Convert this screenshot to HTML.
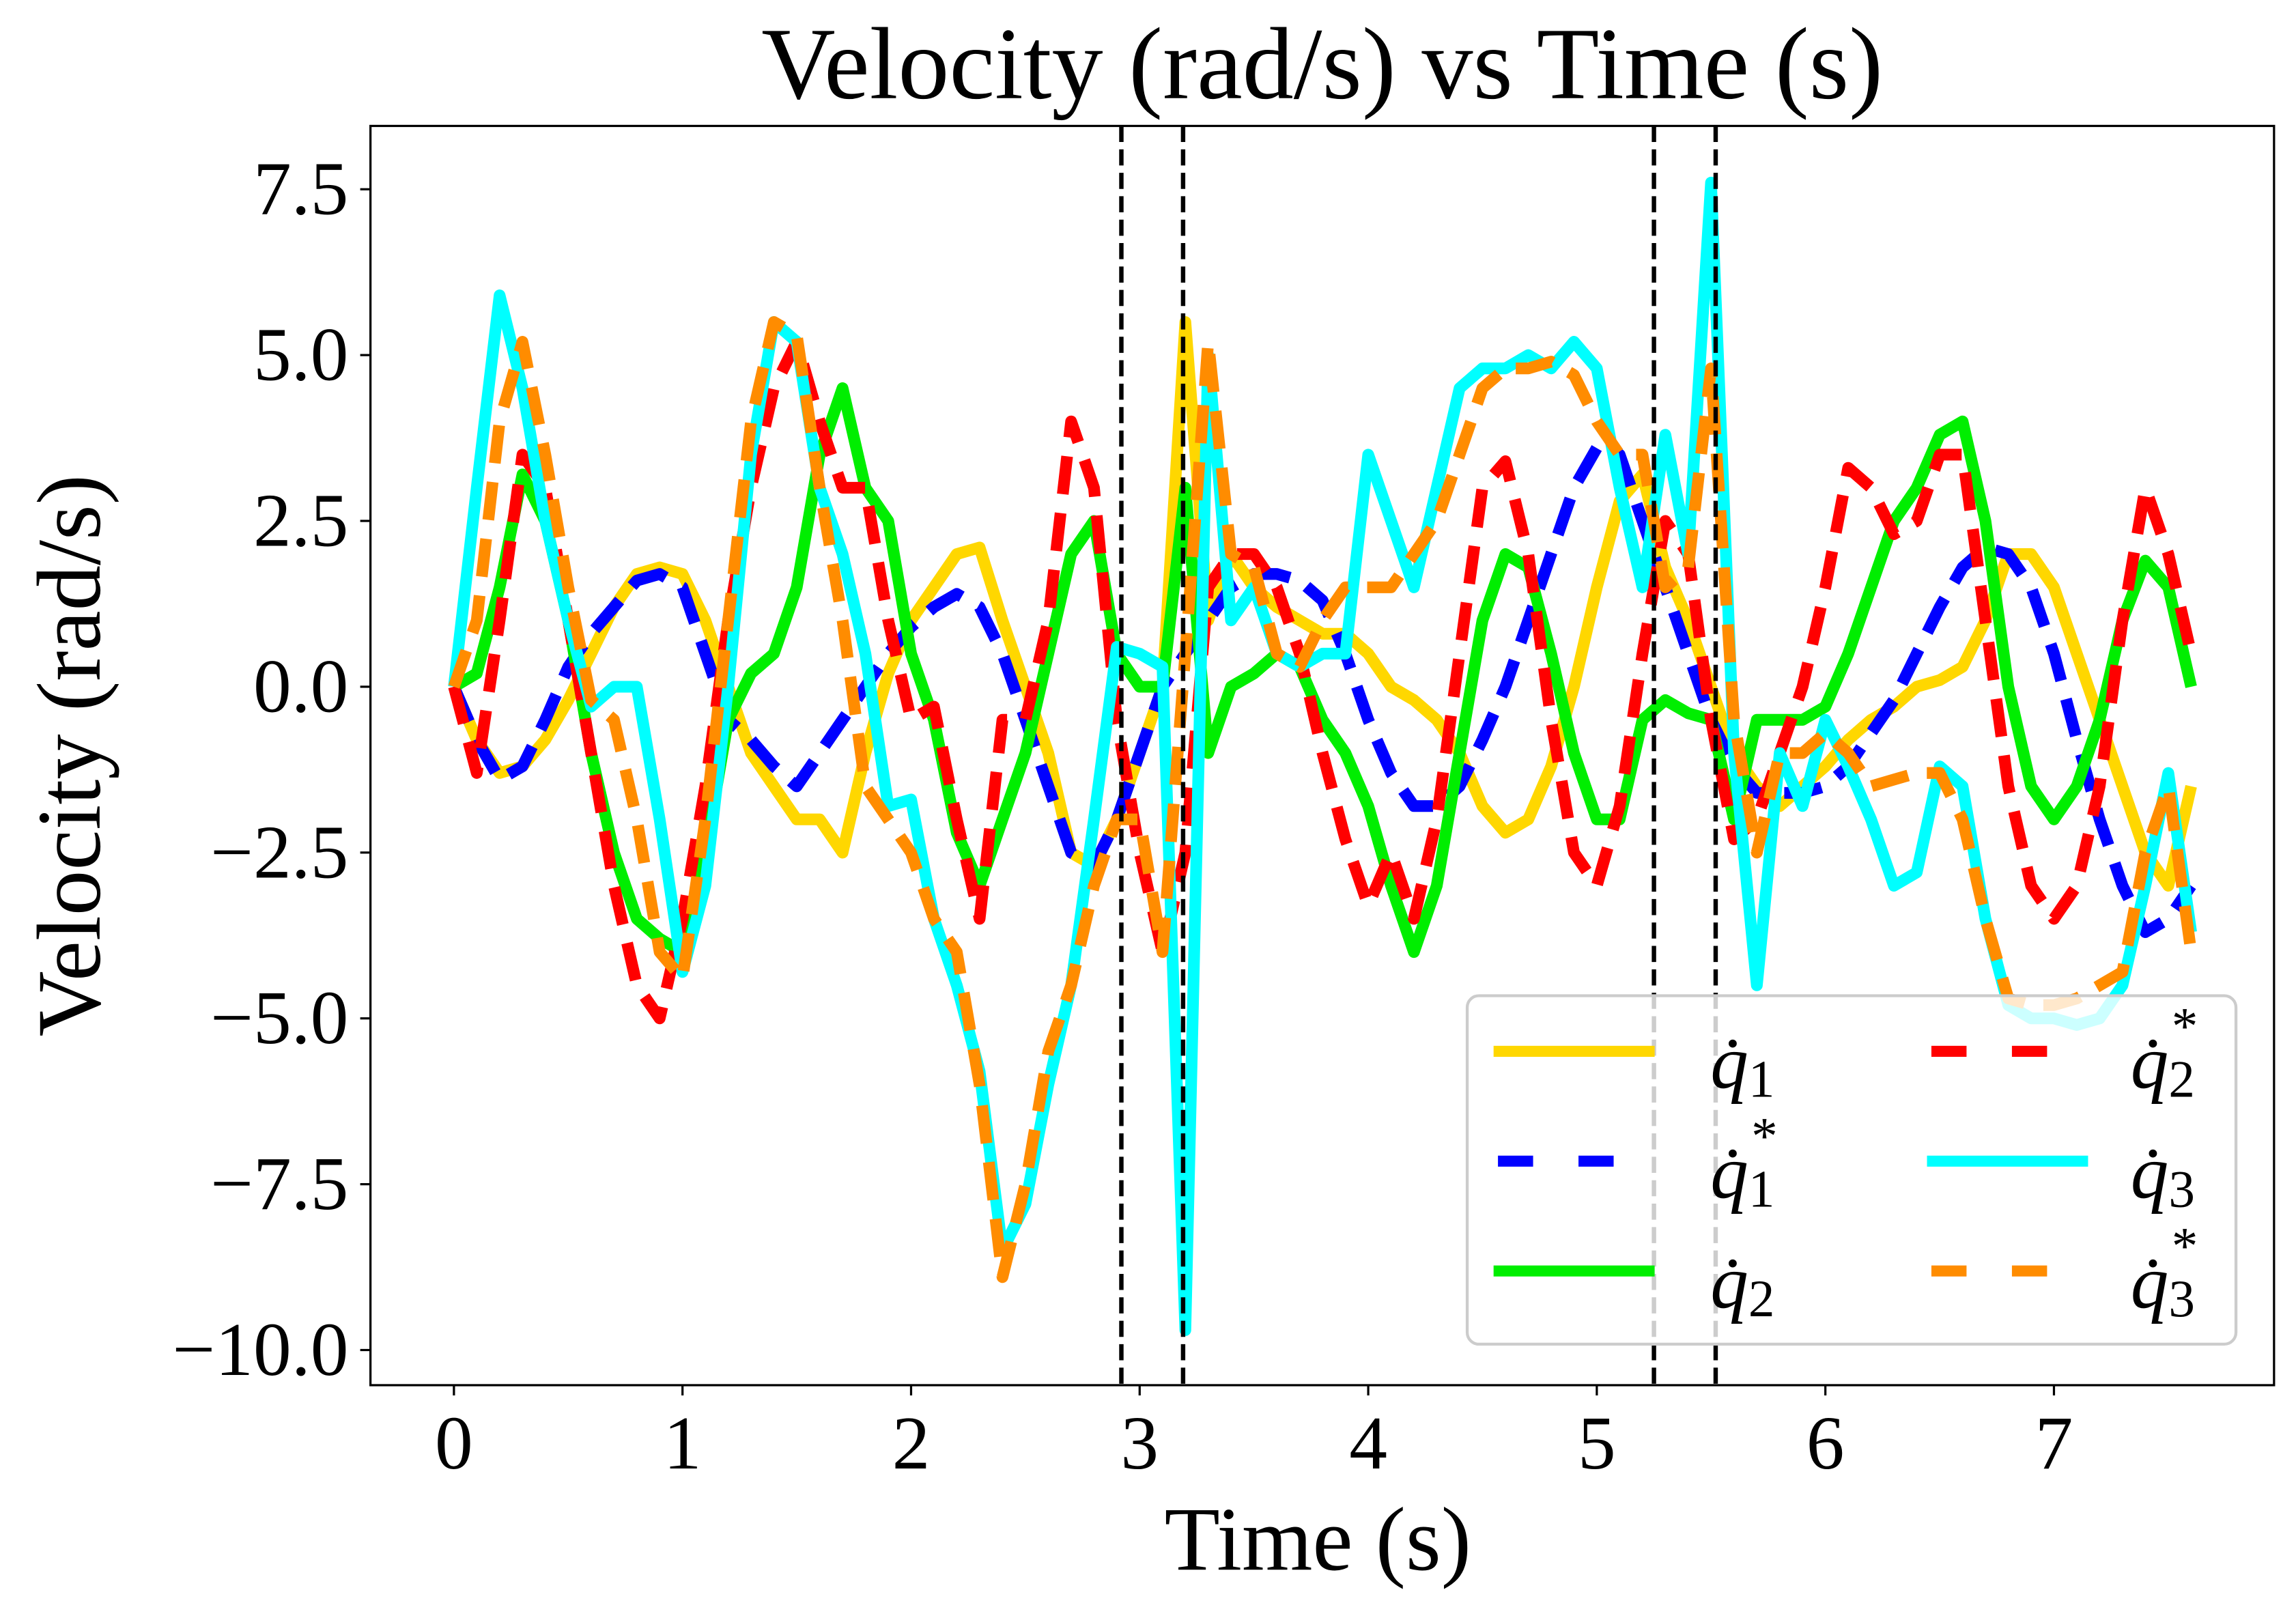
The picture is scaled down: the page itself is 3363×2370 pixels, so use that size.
<!DOCTYPE html>
<html><head><meta charset="utf-8"><style>
html,body{margin:0;padding:0;background:#fff}
svg{display:block}
text{font-family:"Liberation Serif","DejaVu Serif",serif;fill:#000}
</style></head><body>
<svg id="chart" width="3363" height="2370" viewBox="0 0 1568 1105" xmlns="http://www.w3.org/2000/svg">
<rect x="0" y="0" width="1568" height="1105" fill="#fff"/>
<text x="903" y="67" font-size="70" text-anchor="middle">Velocity (rad/s) vs Time (s)</text>
<text x="900" y="1072" font-size="62" text-anchor="middle">Time (s)</text>
<text transform="translate(68,516) rotate(-90)" font-size="62" text-anchor="middle">Velocity (rad/s)</text>
<g id="xticks"></g>
<g id="yticks"></g>
<g id="series"></g>
<g id="vlines"></g>
<rect x="253" y="86" width="1300" height="860" fill="none" stroke="#000" stroke-width="1.5"/>
<g>
<rect x="1002" y="680" width="525" height="238" rx="8" fill="#fff" fill-opacity="0.8" stroke="#ccc" stroke-width="2"/>
<line x1="1020" y1="718" x2="1130" y2="718" stroke="#FFD700" stroke-width="7.5"/>
<text x="1168" y="743" font-size="52" font-style="italic">q̇<tspan font-style="normal" font-size="36" dy="6">1</tspan></text>
<line x1="1023" y1="793" x2="1102" y2="793" stroke="#0000ff" stroke-width="7.5" stroke-dasharray="24 31"/>
<text x="1168" y="818" font-size="52" font-style="italic">q̇<tspan font-style="normal" font-size="36" dy="6">1</tspan><tspan font-style="normal" font-size="36" dx="-16" dy="-36">*</tspan></text>
<line x1="1020" y1="868" x2="1130" y2="868" stroke="#00ee00" stroke-width="7.5"/>
<text x="1168" y="893" font-size="52" font-style="italic">q̇<tspan font-style="normal" font-size="36" dy="6">2</tspan></text>
<line x1="1319" y1="718" x2="1398" y2="718" stroke="#ff0000" stroke-width="7.5" stroke-dasharray="24 31"/>
<text x="1455" y="743" font-size="52" font-style="italic">q̇<tspan font-style="normal" font-size="36" dy="6">2</tspan><tspan font-style="normal" font-size="36" dx="-16" dy="-36">*</tspan></text>
<line x1="1316" y1="793" x2="1426" y2="793" stroke="#00ffff" stroke-width="7.5"/>
<text x="1455" y="818" font-size="52" font-style="italic">q̇<tspan font-style="normal" font-size="36" dy="6">3</tspan></text>
<line x1="1319" y1="868" x2="1398" y2="868" stroke="#ff8c00" stroke-width="7.5" stroke-dasharray="24 31"/>
<text x="1455" y="893" font-size="52" font-style="italic">q̇<tspan font-style="normal" font-size="36" dy="6">3</tspan><tspan font-style="normal" font-size="36" dx="-16" dy="-36">*</tspan></text>
</g>
</svg>
<script>
const times = [];
for (let i = 0; i <= 76; i++) times.push(i / 10);
const q1 = [0,-0.8,-1.3,-1.2,-0.8,-0.2,0.5,1.2,1.7,1.8,1.7,1,0,-1,-1.5,-2,-2,-2.5,-1,0.2,1,1.5,2,2.1,1,0,-1,-2.5,-2.7,-2,-1,0,5.5,1,2,1.5,1.2,1,0.8,0.8,0.5,0,-0.2,-0.5,-1,-1.8,-2.2,-2,-1.2,0,1.5,2.8,3.2,1.8,1,0,-1,-1.5,-1.8,-1.5,-1.2,-0.8,-0.5,-0.3,0,0.1,0.3,1,2,2,1.5,0.5,-0.5,-1.5,-2.5,-3,-1.5];
const q1s = [0,-0.8,-1.4,-1.2,-0.5,0.3,0.8,1.2,1.6,1.7,1.5,0.5,-0.5,-0.8,-1.2,-1.5,-1,-0.5,0,0.5,0.9,1.2,1.4,1.2,0.5,-0.5,-1.5,-2.5,-2.7,-2,-1,0,0.5,1,1.5,1.7,1.7,1.6,1.3,0.5,-0.5,-1.3,-1.8,-1.8,-1.5,-0.8,0,1,2,3,3.6,3.5,2.5,1.5,0.5,-0.5,-1.2,-1.6,-1.6,-1.6,-1.5,-1.2,-0.7,-0.2,0.5,1.2,1.8,2.1,2,1.5,0.5,-0.8,-2,-3,-3.7,-3.5,-3];
const q2 = [0,0.2,1.5,3.2,2.5,1,-1,-2.5,-3.5,-3.8,-4,-2.5,-0.5,0.2,0.5,1.5,3.5,4.5,3,2.5,0.5,-0.5,-2.2,-3,-2,-1,0.5,2,2.5,0.5,0,0,3,-1,0,0.2,0.5,0.3,-0.5,-1,-1.8,-3,-4,-3,-1,1,2,1.8,0.5,-1,-2,-2,-0.5,-0.2,-0.4,-0.5,-2,-0.5,-0.5,-0.5,-0.3,0.5,1.5,2.5,3,3.8,4,2.5,0,-1.5,-2,-1.5,-0.5,1,1.9,1.5,0];
const q2s = [0,-1.3,1,3.5,3,1,-1,-3,-4.5,-5,-3.5,-1.5,1,3,4.5,5.2,4,3,3,1,-0.5,-0.3,-2,-3.5,-0.5,-0.5,1,4,3,-0.5,-2.5,-4,-2.5,1.5,2,2,1.5,0.5,-1,-2.3,-3.3,-2.5,-3.5,-2,0.5,3,3.4,2,-0.5,-2.5,-3,-1.8,0.5,2.5,2,-0.5,-2.3,-2,-1,0,1.5,3.3,3,2.3,2.5,3.5,3.5,1,-1.5,-3,-3.5,-3,-1.5,1,3,2,0.5];
const q3 = [0,3,5.9,4.5,2.5,1,-0.3,0,0,-2,-4.3,-3,0,3.5,5.5,5.2,3,2,0.5,-1.8,-1.7,-3.5,-4.5,-5.8,-8.5,-7.8,-6,-4.5,-2,0.6,0.5,0.3,-9.7,5,1,1.5,0.5,0.3,0.5,0.5,3.5,2.5,1.5,3,4.5,4.8,4.8,5,4.8,5.2,4.8,3,1.5,3.8,2,7.6,-1,-4.5,-1,-1.8,-0.5,-1.2,-2,-3,-2.8,-1.2,-1.5,-3.5,-4.8,-5,-5,-5.1,-5,-4.5,-3,-1.3,-3.7];
const q3s = [0,1,4,5.2,3.5,1.5,-0.2,-0.5,-2,-4,-4.4,-2,1,4,5.5,5.3,3,1,-1.5,-2,-2.5,-3.5,-4,-6,-8.9,-7.5,-5.5,-4.5,-3,-2,-2,-4,0.5,5.2,2,1.8,0.5,0.3,1,1.5,1.5,1.5,2,2.5,3.5,4.5,4.8,4.8,4.9,4.7,4,3.5,3.5,1.5,1.8,4.8,-0.5,-2.5,-1,-1,-0.7,-1,-1.5,-1.4,-1.3,-1.3,-2,-3.5,-4.7,-4.8,-4.8,-4.7,-4.5,-4.3,-2.5,-1.5,-4];
const xTicks = [0,1,2,3,4,5,6,7];
const yTicks = [7.5,5.0,2.5,0.0,-2.5,-5.0,-7.5,-10.0];
const eventTimes = [2.92,3.19,5.25,5.52];

const NS = "http://www.w3.org/2000/svg";
const X = t => 310 + t * 156.1;
const Y = v => 469 - v * 45.3;

const xg = document.getElementById('xticks');
xTicks.forEach(t => {
  const l = document.createElementNS(NS,'line');
  l.setAttribute('x1',X(t)); l.setAttribute('x2',X(t));
  l.setAttribute('y1',946); l.setAttribute('y2',953);
  l.setAttribute('stroke','#000'); l.setAttribute('stroke-width','1.5');
  
  
  xg.appendChild(l);
  const tx = document.createElementNS(NS,'text');
  tx.setAttribute('x',X(t)); tx.setAttribute('y',1003);
  tx.setAttribute('font-size','52'); tx.setAttribute('text-anchor','middle');
  tx.textContent = String(t);
  
  
  xg.appendChild(tx);
});
const yg = document.getElementById('yticks');
yTicks.forEach(v => {
  const l = document.createElementNS(NS,'line');
  l.setAttribute('x1',246); l.setAttribute('x2',253);
  l.setAttribute('y1',Y(v)); l.setAttribute('y2',Y(v));
  l.setAttribute('stroke','#000'); l.setAttribute('stroke-width','1.5');
  
  
  yg.appendChild(l);
  const tx = document.createElementNS(NS,'text');
  tx.setAttribute('x',238); tx.setAttribute('y',Y(v)+17);
  tx.setAttribute('font-size','52'); tx.setAttribute('text-anchor','end');
  tx.textContent = (v < 0 ? '\u2212' : '') + Math.abs(v).toFixed(1);
  
  
  yg.appendChild(tx);
});

const sg = document.getElementById('series');
function drawSeries(vals, color, dashed, name) {
  const p = document.createElementNS(NS,'path');
  let d = '';
  vals.forEach((v,i) => { d += (i ? 'L' : 'M') + X(times[i]).toFixed(1) + ',' + Y(v).toFixed(1); });
  p.setAttribute('d', d);
  p.setAttribute('fill','none');
  p.setAttribute('stroke', color);
  p.setAttribute('stroke-width','8');
  p.setAttribute('stroke-linejoin','round');
  if (dashed) p.setAttribute('stroke-dasharray','26 13');
  
  
  sg.appendChild(p);
}
drawSeries(q1, '#FFD700', false, 'series-q1');
drawSeries(q1s, '#0000ff', true, 'series-q1-star');
drawSeries(q2, '#00ee00', false, 'series-q2');
drawSeries(q2s, '#ff0000', true, 'series-q2-star');
drawSeries(q3, '#00ffff', false, 'series-q3');
drawSeries(q3s, '#ff8c00', true, 'series-q3-star');

const vg = document.getElementById('vlines');
eventTimes.forEach(t => {
  const l = document.createElementNS(NS,'line');
  l.setAttribute('x1',X(t)); l.setAttribute('x2',X(t));
  l.setAttribute('y1',86); l.setAttribute('y2',946);
  l.setAttribute('stroke','#000'); l.setAttribute('stroke-width','3');
  l.setAttribute('stroke-dasharray','11 5');
  
  
  vg.appendChild(l);
});
</script>
</body></html>
